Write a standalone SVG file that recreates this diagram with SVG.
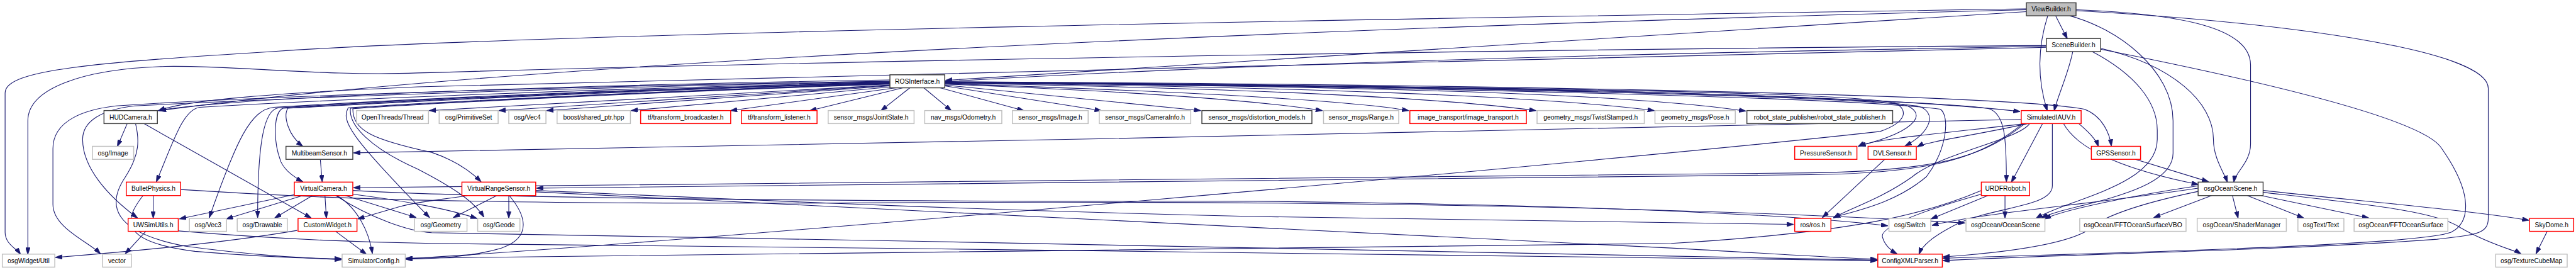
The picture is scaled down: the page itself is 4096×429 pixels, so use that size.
<svg xmlns="http://www.w3.org/2000/svg" width="4096" height="429" viewBox="0 0 4096 429">
<style>
.n rect{fill:#ffffff;stroke-width:2}
.k rect{stroke:#404040}
.g rect{stroke:#bfbfbf}
.r rect{stroke:#ff0000}
.root rect{fill:#bfbfbf;stroke:#404040}
.n text{font-family:"Liberation Sans",Arial,sans-serif;font-size:14px;text-anchor:middle;fill:#000000}
#edges path{fill:none;stroke:#191970;stroke-width:1.5;marker-end:url(#a)}
</style>
<defs>
<marker id="a" markerWidth="15" markerHeight="10" refX="14" refY="5" orient="auto" markerUnits="userSpaceOnUse"><path d="M0,0L15,5L0,10z" fill="#191970" stroke="#191970" stroke-width="1"/></marker>
</defs>
<rect width="4096" height="429" fill="#ffffff"/>
<g transform="scale(0.73815)">
<g id="edges">
<path d="M4428,34 L4453,83"/>
<path d="M4411,34 C4390,100 4388,170 4410,238"/>
<path d="M4365,25 L2037,173"/>
<path d="M4365,21 C3400,45 1300,110 344,238"/>
<path d="M4365,19 C3000,40 1200,70 600,110 C200,135 11,150 11,200 L11,500 C11,525 35,535 44,547"/>
<path d="M4472,21 C4700,30 4848,60 4848,140 L4848,310 C4848,350 4815,370 4812,392"/>
<path d="M4472,23 C4950,50 5360,110 5360,190 L5360,470 C5360,505 5330,505 5250,515 C4900,540 4500,545 4186,561"/>
<path d="M4458,34 C4560,60 4681,150 4681,260 L4681,330 C4681,420 4450,440 4398,469"/>
<path d="M4465,111 C4455,160 4435,200 4425,238"/>
<path d="M4408,100 C3600,113 2700,135 2037,176"/>
<path d="M4408,102 C3600,124 1800,160 900,187 C600,200 400,215 342,238"/>
<path d="M4408,98 C3600,103 2000,125 900,157 C700,165 500,140 356,143 C180,148 60,190 60,260 L60,547"/>
<path d="M4525,104 C4680,140 4768,220 4768,300 C4768,340 4790,370 4798,392"/>
<path d="M4507,111 C4600,160 4647,220 4647,280 L4647,300 C4647,400 4450,430 4386,470"/>
<path d="M4525,106 C4900,180 5226,260 5260,320 C5330,420 5320,480 5280,500 C5200,530 4500,545 4186,556"/>
<path d="M4354,257 C3500,275 1800,312 762,329"/>
<path d="M4362,266 C4280,330 4200,368 3900,372 C2500,385 1500,392 762,404"/>
<path d="M4358,266 C4270,335 4180,373 3900,376 C2800,385 1800,395 1156,405"/>
<path d="M4365,266 C4200,285 4030,300 4003,315"/>
<path d="M4368,266 C4260,290 4150,305 4130,316"/>
<path d="M4478,266 C4500,285 4515,300 4520,315"/>
<path d="M4400,266 L4333,392"/>
<path d="M4445,266 C4480,330 4600,370 4735,397"/>
<path d="M4372,266 C4350,300 4180,330 4120,380 C4050,430 3980,450 3950,469"/>
<path d="M4421,266 L4421,400 C4421,445 4300,445 4220,480 C4160,510 4140,530 4134,547"/>
<path d="M1917,183 L925,238"/>
<path d="M1917,184 L1075,238"/>
<path d="M1917,185 L1178,238"/>
<path d="M1920,187 L1360,238"/>
<path d="M1930,189 L1574,238"/>
<path d="M1945,189 L1745,238"/>
<path d="M1960,189 L1898,238"/>
<path d="M1990,189 L2049,238"/>
<path d="M2025,189 L2205,238"/>
<path d="M2035,185 L2372,238"/>
<path d="M2035,183 L2586,238"/>
<path d="M2035,181 C2400,195 2700,215 2848,238"/>
<path d="M2035,180 C2500,195 2900,215 3034,238"/>
<path d="M2035,179 C2700,190 3100,210 3308,238"/>
<path d="M2035,178 C2800,188 3300,205 3563,238"/>
<path d="M2035,178 C2900,185 3500,200 3760,239"/>
<path d="M2035,177 C3000,182 4000,200 4351,240"/>
<path d="M2035,177 C3000,183 3900,200 4100,225 C4150,240 4140,280 4005,314"/>
<path d="M2035,178 C3000,184 3950,205 4130,228 C4175,240 4160,285 4104,314"/>
<path d="M2035,178 C3000,185 4000,210 4180,235 C4200,250 4195,320 4150,380 C4080,440 3990,455 3950,468"/>
<path d="M2035,176 C3000,182 4100,210 4280,233 C4320,240 4322,300 4322,391"/>
<path d="M2035,176 C3000,180 4300,200 4490,235 C4530,250 4545,290 4548,314"/>
<path d="M2035,178 C3000,185 3980,195 4082,222 C4110,235 4110,262 4050,283 C3500,345 1500,520 875,557"/>
<path d="M1917,172 C1400,180 700,200 420,228 C380,232 350,236 341,238"/>
<path d="M1917,175 C1200,185 500,210 250,228 C180,236 114,260 114,320 L114,440 C114,490 190,520 216,546"/>
<path d="M1917,176 C1200,188 600,212 290,228 C220,236 178,260 178,300 C178,360 230,420 296,469"/>
<path d="M1917,177 C1300,190 700,215 430,231 C395,236 375,300 337,391"/>
<path d="M1917,178 C1300,192 800,218 590,231 C540,236 510,300 451,468"/>
<path d="M1917,178 C1300,193 800,220 600,232 C570,236 555,300 555,468"/>
<path d="M1917,179 C1300,194 800,222 610,233 C590,240 587,300 605,348 C615,370 640,385 652,391"/>
<path d="M1917,179 C1300,195 800,224 620,233 C610,250 620,290 652,315"/>
<path d="M1917,180 C1400,196 900,222 750,232 C735,260 750,290 925,468"/>
<path d="M1917,180 C1400,197 900,223 755,233 C750,270 800,320 900,364 C960,395 1020,430 1042,467"/>
<path d="M1917,181 C1400,198 900,224 760,234 C760,280 800,300 930,328 C980,345 1015,370 1036,391"/>
<path d="M274,266 L253,315"/>
<path d="M292,266 C300,300 302,331 270,381 C230,440 240,500 400,530 C550,550 650,555 735,559"/>
<path d="M310,266 L670,469"/>
<path d="M330,421 L330,469"/>
<path d="M308,421 C270,470 250,520 420,541 C550,552 650,556 735,557"/>
<path d="M389,408 C600,422 900,440 1800,437 C2700,430 3600,443 4232,480"/>
<path d="M634,419 L387,471"/>
<path d="M652,421 L488,471"/>
<path d="M673,421 L592,469"/>
<path d="M700,421 L703,469"/>
<path d="M726,421 C771,448 795,500 802,545"/>
<path d="M744,421 L896,468"/>
<path d="M760,418 C850,430 950,445 1027,470"/>
<path d="M760,410 C1000,425 1800,435 2700,433 C3300,440 3800,455 4066,486"/>
<path d="M723,421 C800,470 880,498 930,501 C2000,520 3500,545 4043,560"/>
<path d="M1154,413 C1500,430 2500,480 3600,534 C3800,545 3950,555 4043,558"/>
<path d="M1154,410 C1500,425 2000,450 2700,466 C3200,475 3600,480 3863,483"/>
<path d="M1070,421 L977,468"/>
<path d="M1096,421 L1096,469"/>
<path d="M1007,421 C950,430 900,434 860,445 L771,471"/>
<path d="M1097,421 C1130,460 1150,510 1080,534 C1020,552 950,556 875,558"/>
<path d="M690,343 L694,391"/>
<path d="M314,498 L270,546"/>
<path d="M384,497 C600,515 800,522 930,524 C2000,535 3500,552 4043,561"/>
<path d="M640,496 C500,520 300,540 120,554"/>
<path d="M723,498 L789,547"/>
<path d="M4282,421 L4160,471"/>
<path d="M4319,421 L4319,469"/>
<path d="M4268,410 C4150,460 4000,500 3600,524 C2500,540 1500,548 875,556"/>
<path d="M4268,418 C4120,460 4050,490 4055,510 C4060,530 4075,540 4086,546"/>
<path d="M4060,343 L3926,468"/>
<path d="M4600,343 L4757,391"/>
<path d="M4764,421 L4640,468"/>
<path d="M4809,421 L4821,469"/>
<path d="M4841,421 L4962,469"/>
<path d="M4871,421 L5102,469"/>
<path d="M4875,410 C5050,430 5300,450 5447,474"/>
<path d="M4875,414 C5100,440 5250,455 5300,490 C5360,525 5420,540 5430,546"/>
<path d="M4735,400 C4600,420 4450,450 4404,471"/>
<path d="M4735,405 C4500,440 4260,460 4162,485"/>
<path d="M4735,412 C4600,440 4520,470 4490,500 C4430,530 4300,545 4186,553"/>
<path d="M5487,498 L5463,546"/>
</g>
<g id="n_ViewBuilder" class="n root"><rect x="4365" y="6" width="107" height="28"/><text x="4418.5" y="25">ViewBuilder.h</text></g>
<g id="n_SceneBuilder" class="n k"><rect x="4408" y="83" width="117" height="28"/><text x="4466.5" y="102">SceneBuilder.h</text></g>
<g id="n_ROSInterface" class="n k"><rect x="1917" y="161" width="118" height="28"/><text x="1976" y="180">ROSInterface.h</text></g>
<g id="n_HUDCamera" class="n k"><rect x="224" y="238" width="115" height="28"/><text x="281.5" y="257">HUDCamera.h</text></g>
<g id="n_OpenThreads" class="n g"><rect x="768" y="238" width="155" height="28"/><text x="845.5" y="257">OpenThreads/Thread</text></g>
<g id="n_PrimitiveSet" class="n g"><rect x="946" y="238" width="127" height="28"/><text x="1009.5" y="257">osg/PrimitiveSet</text></g>
<g id="n_Vec4" class="n g"><rect x="1096" y="238" width="80" height="28"/><text x="1136" y="257">osg/Vec4</text></g>
<g id="n_boost" class="n g"><rect x="1200" y="238" width="158" height="28"/><text x="1279" y="257">boost/shared_ptr.hpp</text></g>
<g id="n_tfb" class="n r"><rect x="1380" y="238" width="194" height="28"/><text x="1477" y="257">tf/transform_broadcaster.h</text></g>
<g id="n_tfl" class="n r"><rect x="1597" y="238" width="163" height="28"/><text x="1678.5" y="257">tf/transform_listener.h</text></g>
<g id="n_JointState" class="n g"><rect x="1784" y="238" width="185" height="28"/><text x="1876.5" y="257">sensor_msgs/JointState.h</text></g>
<g id="n_Odometry" class="n g"><rect x="1992" y="238" width="166" height="28"/><text x="2075" y="257">nav_msgs/Odometry.h</text></g>
<g id="n_Image" class="n g"><rect x="2181" y="238" width="163" height="28"/><text x="2262.5" y="257">sensor_msgs/Image.h</text></g>
<g id="n_CameraInfo" class="n g"><rect x="2368" y="238" width="197" height="28"/><text x="2466.5" y="257">sensor_msgs/CameraInfo.h</text></g>
<g id="n_distortion" class="n k"><rect x="2589" y="238" width="237" height="28"/><text x="2707.5" y="257">sensor_msgs/distortion_models.h</text></g>
<g id="n_Range" class="n g"><rect x="2851" y="238" width="162" height="28"/><text x="2932" y="257">sensor_msgs/Range.h</text></g>
<g id="n_image_transport" class="n r"><rect x="3037" y="238" width="251" height="28"/><text x="3162.5" y="257">image_transport/image_transport.h</text></g>
<g id="n_TwistStamped" class="n g"><rect x="3311" y="238" width="231" height="28"/><text x="3426.5" y="257">geometry_msgs/TwistStamped.h</text></g>
<g id="n_Pose" class="n g"><rect x="3565" y="238" width="173" height="28"/><text x="3651.5" y="257">geometry_msgs/Pose.h</text></g>
<g id="n_rsp" class="n k"><rect x="3763" y="238" width="314" height="28"/><text x="3920" y="257">robot_state_publisher/robot_state_publisher.h</text></g>
<g id="n_SimulatedIAUV" class="n r"><rect x="4354" y="238" width="129" height="28"/><text x="4418.5" y="257">SimulatedIAUV.h</text></g>
<g id="n_osgImage" class="n g"><rect x="199" y="315" width="89" height="28"/><text x="243.5" y="334">osg/Image</text></g>
<g id="n_Multibeam" class="n k"><rect x="616" y="315" width="144" height="28"/><text x="688" y="334">MultibeamSensor.h</text></g>
<g id="n_Pressure" class="n r"><rect x="3866" y="315" width="134" height="28"/><text x="3933" y="334">PressureSensor.h</text></g>
<g id="n_DVL" class="n r"><rect x="4024" y="315" width="104" height="28"/><text x="4076" y="334">DVLSensor.h</text></g>
<g id="n_GPS" class="n r"><rect x="4505" y="315" width="106" height="28"/><text x="4558" y="334">GPSSensor.h</text></g>
<g id="n_Bullet" class="n r"><rect x="272" y="392" width="117" height="29"/><text x="330.5" y="411">BulletPhysics.h</text></g>
<g id="n_VirtualCamera" class="n r"><rect x="634" y="392" width="126" height="29"/><text x="697" y="411">VirtualCamera.h</text></g>
<g id="n_VRS" class="n r"><rect x="995" y="392" width="159" height="29"/><text x="1074.5" y="411">VirtualRangeSensor.h</text></g>
<g id="n_URDF" class="n r"><rect x="4268" y="392" width="104" height="29"/><text x="4320" y="411">URDFRobot.h</text></g>
<g id="n_osgOceanScene" class="n k"><rect x="4735" y="392" width="140" height="29"/><text x="4805" y="411">osgOceanScene.h</text></g>
<g id="n_UWSimUtils" class="n r"><rect x="276" y="470" width="108" height="28"/><text x="330" y="489">UWSimUtils.h</text></g>
<g id="n_Vec3" class="n g"><rect x="408" y="470" width="80" height="28"/><text x="448" y="489">osg/Vec3</text></g>
<g id="n_Drawable" class="n g"><rect x="511" y="470" width="108" height="28"/><text x="565" y="489">osg/Drawable</text></g>
<g id="n_CustomWidget" class="n r"><rect x="642" y="470" width="127" height="28"/><text x="705.5" y="489">CustomWidget.h</text></g>
<g id="n_Geometry" class="n g"><rect x="893" y="470" width="113" height="28"/><text x="949.5" y="489">osg/Geometry</text></g>
<g id="n_Geode" class="n g"><rect x="1029" y="470" width="91" height="28"/><text x="1074.5" y="489">osg/Geode</text></g>
<g id="n_ros" class="n r"><rect x="3866" y="470" width="78" height="28"/><text x="3905" y="489">ros/ros.h</text></g>
<g id="n_Switch" class="n g"><rect x="4069" y="470" width="90" height="28"/><text x="4114" y="489">osg/Switch</text></g>
<g id="n_OceanScene" class="n g"><rect x="4235" y="470" width="170" height="28"/><text x="4320" y="489">osgOcean/OceanScene</text></g>
<g id="n_FFTVBO" class="n g"><rect x="4480" y="470" width="229" height="28"/><text x="4594.5" y="489">osgOcean/FFTOceanSurfaceVBO</text></g>
<g id="n_ShaderManager" class="n g"><rect x="4733" y="470" width="192" height="28"/><text x="4829" y="489">osgOcean/ShaderManager</text></g>
<g id="n_Text" class="n g"><rect x="4950" y="470" width="99" height="28"/><text x="4999.5" y="489">osgText/Text</text></g>
<g id="n_FFT" class="n g"><rect x="5071" y="470" width="202" height="28"/><text x="5172" y="489">osgOcean/FFTOceanSurface</text></g>
<g id="n_SkyDome" class="n r"><rect x="5449" y="470" width="95" height="28"/><text x="5496.5" y="489">SkyDome.h</text></g>
<g id="n_osgWidgetUtil" class="n g"><rect x="5" y="547" width="113" height="28"/><text x="61.5" y="566">osgWidget/Util</text></g>
<g id="n_vector" class="n g"><rect x="221" y="547" width="62" height="28"/><text x="252" y="566">vector</text></g>
<g id="n_SimulatorConfig" class="n g"><rect x="737" y="547" width="136" height="28"/><text x="805" y="566">SimulatorConfig.h</text></g>
<g id="n_ConfigXMLParser" class="n r"><rect x="4045" y="547" width="139" height="28"/><text x="4114.5" y="566">ConfigXMLParser.h</text></g>
<g id="n_TextureCubeMap" class="n g"><rect x="5376" y="547" width="154" height="28"/><text x="5453" y="566">osg/TextureCubeMap</text></g>
</g>
</svg>
